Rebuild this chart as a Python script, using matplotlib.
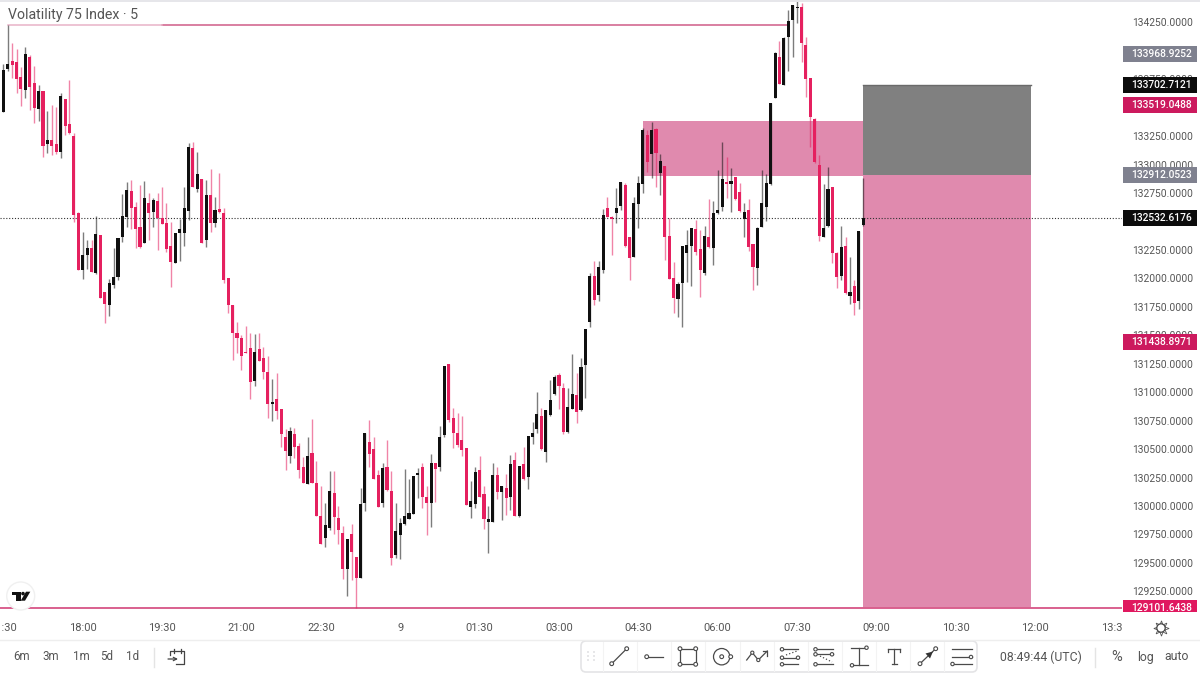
"""Volatility 75 Index, 5 min, with the short position drawing and the toolbar."""
import matplotlib
matplotlib.use("Agg")
import matplotlib.pyplot as plt
from matplotlib.patches import Rectangle, Circle, Polygon, FancyBboxPatch

plt.rcParams["font.family"] = ["Roboto", "DejaVu Sans"]

# OHLC, bar 0 is 16:30
opens = [133459, 133837, 133907, 133898, 133766, 133655, 133948, 133714, 133491, 133643,
         133181, 133216, 133181, 133113, 133576, 133356, 133254, 132571, 132074, 132205,
         132264, 132044, 132381, 131877, 131766, 131942, 132015, 132361, 132536, 132768,
         132630, 132454, 132314, 132659, 132580, 132680, 132528, 132489, 132284, 132138,
         132396, 132396, 132595, 133143, 132782, 132873, 132337, 132733, 132484, 132607,
         132571, 132000, 131766, 131523, 131479, 131356, 131391, 131098, 131379, 131297,
         131174, 130899, 130937, 130852, 130609, 130442, 130630, 130530, 130345, 130193,
         130468, 130199, 129912, 129716, 129804, 130111, 129891, 129760, 129443, 129751,
         129549, 129364, 130023, 130565, 130498, 130272, 130023, 130340, 130132, 129569,
         129745, 129839, 129886, 129929, 130272, 130340, 130082, 130023, 130375, 130345,
         130624, 131248, 130770, 130644, 130580, 130512, 129988, 130017, 130316, 130105,
         129856, 129856, 130272, 130120, 130155, 130082, 130404, 129915, 130369, 130252,
         130609, 130673, 130791, 130477, 130799, 130981, 131151, 131034, 130653, 130852,
         130975, 130843, 131239, 131620, 132021, 131854, 132074, 132615, 132542, 132571,
         132636, 132820, 132361, 132191, 132653, 132826, 133260, 133093, 133312, 132923,
         132987, 132372, 132000, 131819, 131956, 132226, 132284, 132434, 132255, 132050,
         132361, 132264, 132571, 132624, 132850, 132826, 132888, 132756, 132522, 132601,
         132299, 132088, 132454, 132624, 132826, 133588, 133948, 133699, 134118, 134270,
         134373, 134382, 134051, 133758, 133400, 132996, 132361, 132460, 132806, 132220,
         132021, 132284, 131848, 131933, 131804, 132469]
closes = [133831, 133884, 133878, 133749, 133667, 133969, 133679, 133500, 133643, 133163,
          133216, 133163, 133110, 133605, 133339, 133274, 132557, 132074, 132205, 132264,
          132053, 132390, 131825, 131772, 131956, 132015, 132358, 132548, 132776, 132621,
          132434, 132279, 132703, 132571, 132689, 132528, 132478, 132255, 132141, 132396,
          132431, 132615, 133157, 132800, 132917, 132308, 132733, 132489, 132601, 132586,
          131986, 131766, 131517, 131473, 131318, 131341, 131092, 131356, 131277, 131174,
          130893, 130911, 130835, 130632, 130486, 130659, 130521, 130316, 130199, 130442,
          130199, 129915, 129666, 129833, 130135, 129900, 129789, 129446, 129707, 129593,
          129364, 130014, 130638, 130457, 130237, 129994, 130337, 130140, 129540, 129783,
          129847, 129912, 129935, 130266, 130293, 130082, 130029, 130375, 130322, 130609,
          131230, 130755, 130644, 130536, 130492, 130009, 130044, 130301, 130082, 129886,
          129883, 130272, 130126, 130176, 130067, 130369, 129915, 130351, 130234, 130615,
          130644, 130805, 130498, 130843, 130931, 131136, 131054, 130647, 130873, 130984,
          130829, 131224, 131552, 132021, 131810, 132097, 132557, 132542, 132522, 132615,
          132850, 132284, 132176, 132659, 132841, 133304, 133025, 133304, 133099, 133034,
          132361, 131991, 131825, 131950, 132284, 132293, 132446, 132229, 132074, 132372,
          132279, 132577, 132601, 132873, 132829, 132856, 132700, 132595, 132586, 132273,
          132097, 132446, 132665, 132835, 133538, 133977, 133708, 134109, 134264, 134405,
          134387, 134065, 133752, 133415, 133020, 132372, 132446, 132782, 132226, 132015,
          132279, 131868, 131883, 131786, 132419, 132533]
highs = [133884, 134226, 134065, 134013, 133854, 134036, 133963, 133866, 133702, 133643,
         133474, 133523, 133509, 133632, 133576, 133743, 133280, 132586, 132410, 132337,
         132337, 132548, 132381, 131883, 131994, 132270, 132358, 132741, 132850, 132864,
         132668, 132820, 132856, 132747, 132703, 132747, 132806, 132665, 132498, 132396,
         132519, 132800, 133187, 133201, 133113, 132873, 132864, 132958, 132718, 132923,
         132621, 132006, 131766, 131620, 131502, 131581, 131517, 131508, 131523, 131400,
         131321, 131113, 131166, 130852, 130674, 130697, 130688, 130550, 130433, 130609,
         130764, 130395, 130176, 130023, 130310, 130310, 130003, 129824, 129707, 129842,
         129549, 130155, 130638, 130755, 130609, 130316, 130375, 130580, 130307, 130029,
         129891, 130322, 130237, 130266, 130337, 130381, 130178, 130457, 130381, 130706,
         131230, 131248, 130858, 130820, 130791, 130512, 130219, 130340, 130442, 130178,
         130003, 130381, 130345, 130176, 130281, 130448, 130471, 130351, 130521, 130615,
         130741, 130999, 130858, 130843, 131107, 131151, 131166, 131078, 131034, 131335,
         131166, 131297, 131552, 132044, 132156, 132156, 132607, 132712, 132548, 132791,
         132850, 132835, 132366, 132718, 132902, 133318, 133304, 133371, 133318, 133093,
         132990, 132528, 132147, 131971, 132284, 132425, 132446, 132513, 132425, 132460,
         132697, 132680, 132952, 133195, 133064, 132973, 132894, 132835, 132665, 132694,
         132302, 132448, 132952, 132917, 133538, 133992, 134089, 134118, 134358, 134405,
         134437, 134423, 134118, 133758, 133406, 133084, 132826, 132982, 132806, 132235,
         132460, 132366, 132185, 131986, 132419, 132879]
lows = [133459, 133825, 133758, 133626, 133515, 133582, 133479, 133362, 133386, 133064,
        133099, 133084, 133093, 133055, 133260, 133269, 132498, 132074, 131994, 132079,
        132053, 132038, 131825, 131611, 131669, 131912, 131986, 132317, 132454, 132431,
        132264, 132264, 132308, 132337, 132454, 132249, 132478, 132235, 131927, 132132,
        132153, 132287, 132513, 132800, 132762, 132308, 132279, 132410, 132454, 132571,
        131962, 131693, 131283, 131341, 131195, 131341, 130937, 131057, 131277, 131113,
        130770, 130747, 130761, 130521, 130316, 130375, 130419, 130243, 130199, 130193,
        130199, 129915, 129666, 129642, 129789, 129754, 129663, 129358, 129212, 129350,
        129102, 129364, 129959, 130345, 130237, 129994, 129994, 130135, 129481, 129540,
        129531, 129833, 129886, 129929, 130067, 129979, 129745, 129812, 130038, 130310,
        130609, 130741, 130506, 130521, 130442, 130009, 129891, 129979, 130076, 129798,
        129590, 129856, 130061, 129877, 129921, 129965, 129912, 129906, 130228, 130146,
        130545, 130644, 130492, 130389, 130793, 130975, 130849, 130630, 130644, 130849,
        130732, 130837, 130952, 131576, 131766, 131804, 132050, 132536, 132205, 132484,
        132601, 132279, 131986, 132185, 132440, 132747, 132938, 132879, 132800, 132733,
        132161, 131991, 131693, 131664, 131576, 131971, 131933, 132205, 131839, 132030,
        132264, 132117, 132566, 132595, 132703, 132586, 132689, 132586, 132366, 132243,
        131898, 131942, 132448, 132507, 132820, 133582, 133708, 133699, 133825, 133948,
        134241, 133904, 133597, 133157, 133011, 132331, 132361, 132454, 132132, 131912,
        131986, 131863, 131775, 131678, 131728, 132460]

time_labels = ["16:30", "18:00", "19:30", "21:00", "22:30", "9", "01:30", "03:00",
               "04:30", "06:00", "07:30", "09:00", "10:30", "12:00", "13:30"]
range_labels = ["6m", "3m", "1m", "5d", "1d"]
price_ticks = list(range(129250, 134500, 250))
# (price, colour of the tag)
price_tags = [(133968.9252, "#7f818f"), (133702.7121, "#0c0c0c"), (133519.0488, "#cc1a5e"),
              (132912.0523, "#7f818f"), (132532.6176, "#0c0c0c"), (131438.8971, "#cc1a5e"),
              (129101.6438, "#e0185f")]

PINK = "#e5205f"
BLACK = "#101010"
TEXT = "#555555"

fig = plt.figure(figsize=(12, 6.74), dpi=100)
ax = fig.add_axes([0, 59 / 674, 1122 / 1200, 615 / 674])
ax.set_xlim(-0.75, 253.67)
ax.set_ylim(134446 - 8.787 * 615, 134446)
for s in ax.spines.values():
    s.set_visible(False)

# position tool : zone d'entree, stop, objectif
ax.add_patch(Rectangle((145, 132900), 50, 133383 - 132900, fc="#e08aae", ec="none", zorder=1))
ax.add_patch(Rectangle((195, 132912), 38, 133702.7 - 132912, fc="#808080", ec="none", zorder=1))
ax.plot([195, 233], [133702.7, 133702.7], color="#6a6a6a", lw=1, zorder=1)
ax.add_patch(Rectangle((195, 129101.6), 38, 132912 - 129101.6, fc="#e08aae", ec="none", zorder=1))

ax.axhline(132532.6, color="#333333", lw=0.8, ls=(0, (1, 1.6)), zorder=1.5)
ax.axhline(129101.6, color="#d9608e", lw=1.4, zorder=1.5)
ax.plot([36, 178], [134226, 134226], color="#cf5c88", lw=1.1, zorder=1.5)
ax.plot([1, 36], [134226, 134226], color="#e8b3c8", lw=1.1, zorder=1.5)

for i in range(len(opens)):
    up = closes[i] >= opens[i]
    c = BLACK if up else PINK
    ax.vlines(i, lows[i], highs[i], color=c, lw=1.0, alpha=0.55, zorder=2)
    ax.bar(i, abs(closes[i] - opens[i]), bottom=min(opens[i], closes[i]), width=0.7, color=c, zorder=3)

ax.set_xticks(range(0, 18 * len(time_labels), 18))
ax.set_xticklabels(time_labels, fontsize=8, color=TEXT)
ax.yaxis.tick_right()
ax.set_yticks(price_ticks)
ax.set_yticklabels([f"{p}.0000" for p in price_ticks], fontsize=7.4, color=TEXT)
ax.tick_params(axis="both", length=0)
ax.tick_params(axis="x", pad=6)
ax.tick_params(axis="y", pad=7)

# etiquettes de prix : x en fraction d'axe (1123 a 1197 px), y en prix
tag_h = 8 * 8.787
for price, col in price_tags:
    ax.add_patch(Rectangle((1123 / 1122, price - tag_h), 74 / 1122, 2 * tag_h, fc=col, ec="none",
                           transform=ax.get_yaxis_transform(), clip_on=False, zorder=19))
    ax.annotate(f"{price:.4f}", xy=(1161.5 / 1122, price), xycoords=ax.get_yaxis_transform(),
                va="center", ha="center", fontsize=7.4, color="white", fontweight="medium",
                zorder=20, annotation_clip=False)

# tout ce qui n'est pas le graphique, en pixels
ov = fig.add_axes([0, 0, 1, 1], zorder=10)
ov.set_xlim(0, 1200)
ov.set_ylim(674, 0)
ov.axis("off")
ov.add_patch(Rectangle((1122, 612), 78, 27, fc="white", ec="none"))
ov.add_patch(Rectangle((0, 618), 1.5, 18, fc="white", ec="none"))
ov.add_patch(Rectangle((0, 0), 1200, 1.5, fc="#e6e6ea", ec="none"))
ov.plot([0, 1200], [639.5, 639.5], color="#eeeeee", lw=1)
ov.text(8, 14.5, "Volatility 75 Index \u00b7 5", fontsize=10.2, color=TEXT, va="center")

# logo
ov.add_patch(Circle((20.7, 596), 14, fc="white", ec="#f0f0f0", lw=1))
ov.add_patch(Polygon([(11.7, 591.7), (20.5, 591.7), (20.5, 600.7), (15.7, 600.7), (15.7, 595), (11.7, 595)], fc="#111111"))
ov.add_patch(Circle((23, 593.6), 1.8, fc="#111111", ec="none"))
ov.add_patch(Polygon([(26, 591.7), (30.3, 591.7), (25, 600.7), (20.7, 600.7)], fc="#111111"))

# reglage
ov.plot(1161, 628, marker=(8, 1, 0), ms=11, mfc="none", mec="#555555", mew=0.6)
ov.add_patch(Circle((1161, 628), 4.2, fc="white", ec="#444444", lw=0.9, zorder=5))

# barre du bas
for x, lab in zip([22, 51, 81, 107, 133], range_labels):
    ov.text(x, 657, lab, fontsize=8.4, color=TEXT, ha="center", va="center")
ov.plot([154, 154], [648, 667], color="#e4e4e4", lw=1)
ov.plot([170, 170, 184, 184, 176], [655, 651, 651, 664, 664], color="#444444", lw=0.9)
ov.plot([174, 174], [649, 653], color="#444444", lw=0.9)
ov.plot([181, 181], [649, 653], color="#444444", lw=0.9)
ov.annotate("", xy=(178, 659), xytext=(168, 659), arrowprops=dict(arrowstyle="->", color="#444444", lw=0.9, mutation_scale=6, shrinkA=0, shrinkB=0))
ov.text(1041, 657, "08:49:44 (UTC)", fontsize=8.8, color=TEXT, ha="center", va="center")
ov.plot([1095, 1095], [648, 667], color="#e4e4e4", lw=1)
ov.text(1117, 657, "%", fontsize=10.5, color=TEXT, ha="center", va="center")
ov.text(1145, 657, "log", fontsize=8.8, color=TEXT, ha="center", va="center")
ov.text(1177, 657, "auto", fontsize=8.8, color=TEXT, ha="center", va="center")

# barre d'outils
ICON = "#4a4a4a"
ov.add_patch(FancyBboxPatch((581, 641), 396, 31, boxstyle="round,pad=0,rounding_size=5", fc="white", ec="#e4e4e6", lw=1.2))


def seg(xs, ys, **kw):
    ov.plot(xs, ys, color=kw.pop("color", ICON), lw=kw.pop("lw", 0.9), zorder=4, **kw)


def knob(x, y, r=1.9):
    ov.add_patch(Circle((x, y), r, fc="white", ec=ICON, lw=0.8, zorder=5))


for x in [588, 594]:
    for y in [652, 656, 660]:
        ov.add_patch(Circle((x, y), 0.8, fc="#d0d0d4", ec="none"))
for x in [603, 637, 671, 705, 740, 774, 808, 842, 876, 910, 944]:
    seg([x, x], [642, 671], color="#f3f3f3", lw=0.8)

seg([611.7, 626.7], [663.7, 648.7])
knob(611.7, 663.7)
knob(626.7, 648.7)
seg([646.7, 663.3], [656.7, 656.7])
knob(646.7, 656.7)
seg([680, 695.7, 695.7, 680, 680], [648.7, 648.7, 664.3, 664.3, 648.7])
for x in [680, 695.7]:
    for y in [648.7, 664.3]:
        knob(x, y)
ov.add_patch(Circle((721.7, 656.7), 8.2, fc="white", ec=ICON, lw=0.9, zorder=4))
knob(721.7, 656.7)
knob(730.7, 656.7)
seg([746.7, 752.3, 758.3, 767.3], [660, 652.7, 660, 651])
seg([763, 767.3, 767.3], [651, 651, 655.5])
knob(752.3, 652.7, 1.6)
knob(758.3, 660, 1.6)
for y in [649.3, 657.7, 664.3]:
    seg([781.7, 798.3], [y, y])
    knob(782, y, 1.7)
seg([786, 797], [655, 651], ls=":")
knob(798, 657.7, 1.7)
for y in [649.3, 654.3, 664.3]:
    seg([815, 833], [y, y])
    knob(815.5, y, 1.7)
seg([820, 832], [656, 662], ls=":")
knob(832, 654.3, 1.7)
seg([850.7, 865], [648.3, 648.3])
knob(866.5, 647.7, 1.7)
seg([859.3, 859.3], [648.3, 665.3])
seg([853, 868], [665.3, 665.3])
knob(852, 665.3, 1.7)
seg([888, 900], [649.3, 649.3])
seg([888, 888], [649.3, 651.5])
seg([900, 900], [649.3, 651.5])
seg([894, 894], [649.3, 664.3])
seg([891.5, 896.5], [664.3, 664.3])
seg([920, 935.7], [663.7, 648.7])
ov.add_patch(Polygon([(933, 651.5), (925.5, 653.5), (930, 658.5)], fc="#333333", ec="none", zorder=5))
knob(920, 663.7)
knob(935.7, 648.7)
for y in [649, 657, 664]:
    seg([952, 972], [y, y])
knob(971, 657, 1.7)
knob(952.5, 664, 1.7)

fig.savefig("out.png", dpi=100)
plt.close(fig)
